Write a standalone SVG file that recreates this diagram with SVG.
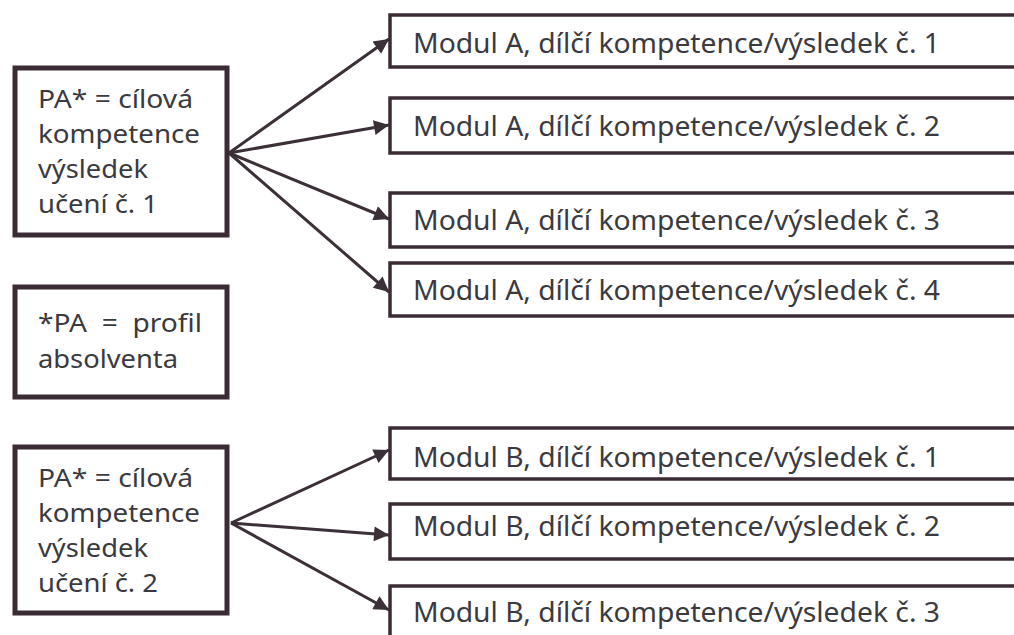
<svg xmlns="http://www.w3.org/2000/svg" width="1014" height="635" viewBox="0 0 1014 635">
<style>
.lbox{fill:#fff;stroke:#3b2b35;stroke-width:5}
.rbox{fill:#fff;stroke:#3b2b35;stroke-width:3.5}
.t{font-family:"Noto Sans","Open Sans",sans-serif;font-size:26px;fill:#3a3a40}
.rt{font-family:"Noto Sans","Open Sans",sans-serif;font-size:27px;fill:#3a3a40}
.c{stroke:#3b2f38;stroke-width:3;fill:none;marker-end:url(#ah)}
</style>
<defs>
<marker id="ah" viewBox="0 0 10 10" refX="10" refY="5" markerWidth="6.5" markerHeight="5" markerUnits="strokeWidth" orient="auto">
<path d="M0,0 L10,5 L0,10 Z" fill="#3b2f38"/>
</marker>
</defs>
<rect width="1014" height="635" fill="#fff"/>
<g id="connectors">
<line class="c" x1="229" y1="153" x2="389" y2="39"/>
<line class="c" x1="229" y1="153" x2="389" y2="125"/>
<line class="c" x1="229" y1="153" x2="389" y2="219"/>
<line class="c" x1="229" y1="153" x2="389" y2="292"/>
<line class="c" x1="231" y1="523" x2="389" y2="450"/>
<line class="c" x1="231" y1="523" x2="389" y2="535"/>
<line class="c" x1="231" y1="523" x2="389" y2="610"/>
</g>
<g id="pa1">
<rect class="lbox" x="15" y="68" width="212" height="167"/>
<text class="t" x="38" y="108" textLength="155" lengthAdjust="spacingAndGlyphs">PA* = cílová</text>
<text class="t" x="38" y="143" textLength="162" lengthAdjust="spacingAndGlyphs">kompetence</text>
<text class="t" x="38" y="178" textLength="110" lengthAdjust="spacingAndGlyphs">výsledek</text>
<text class="t" x="38" y="213" textLength="120" lengthAdjust="spacingAndGlyphs">učení č. 1</text>
</g>
<g id="legend">
<rect class="lbox" x="15" y="287" width="212" height="110"/>
<text class="t" x="38" y="332" textLength="164" lengthAdjust="spacingAndGlyphs" xml:space="preserve">*PA  =  profil</text>
<text class="t" x="38" y="368" textLength="140" lengthAdjust="spacingAndGlyphs">absolventa</text>
</g>
<g id="pa2">
<rect class="lbox" x="15" y="447" width="212" height="166"/>
<text class="t" x="38" y="487" textLength="155" lengthAdjust="spacingAndGlyphs">PA* = cílová</text>
<text class="t" x="38" y="522" textLength="162" lengthAdjust="spacingAndGlyphs">kompetence</text>
<text class="t" x="38" y="557" textLength="110" lengthAdjust="spacingAndGlyphs">výsledek</text>
<text class="t" x="38" y="592" textLength="120" lengthAdjust="spacingAndGlyphs">učení č. 2</text>
</g>
<g id="a1">
<rect class="rbox" x="390" y="15" width="640" height="52"/>
<text class="rt" x="413" y="53" textLength="527" lengthAdjust="spacingAndGlyphs">Modul A, dílčí kompetence/výsledek č. 1</text>
</g>
<g id="a2">
<rect class="rbox" x="390" y="98" width="640" height="55"/>
<text class="rt" x="413" y="136" textLength="527" lengthAdjust="spacingAndGlyphs">Modul A, dílčí kompetence/výsledek č. 2</text>
</g>
<g id="a3">
<rect class="rbox" x="390" y="193" width="640" height="54"/>
<text class="rt" x="413" y="230" textLength="527" lengthAdjust="spacingAndGlyphs">Modul A, dílčí kompetence/výsledek č. 3</text>
</g>
<g id="a4">
<rect class="rbox" x="390" y="263" width="640" height="53"/>
<text class="rt" x="413" y="300" textLength="527" lengthAdjust="spacingAndGlyphs">Modul A, dílčí kompetence/výsledek č. 4</text>
</g>
<g id="b1">
<rect class="rbox" x="390" y="428" width="640" height="51"/>
<text class="rt" x="413" y="467" textLength="527" lengthAdjust="spacingAndGlyphs">Modul B, dílčí kompetence/výsledek č. 1</text>
</g>
<g id="b2">
<rect class="rbox" x="390" y="504" width="640" height="55"/>
<text class="rt" x="413" y="536" textLength="527" lengthAdjust="spacingAndGlyphs">Modul B, dílčí kompetence/výsledek č. 2</text>
</g>
<g id="b3">
<rect class="rbox" x="390" y="586" width="640" height="60"/>
<text class="rt" x="413" y="622" textLength="527" lengthAdjust="spacingAndGlyphs">Modul B, dílčí kompetence/výsledek č. 3</text>
</g>
</svg>
